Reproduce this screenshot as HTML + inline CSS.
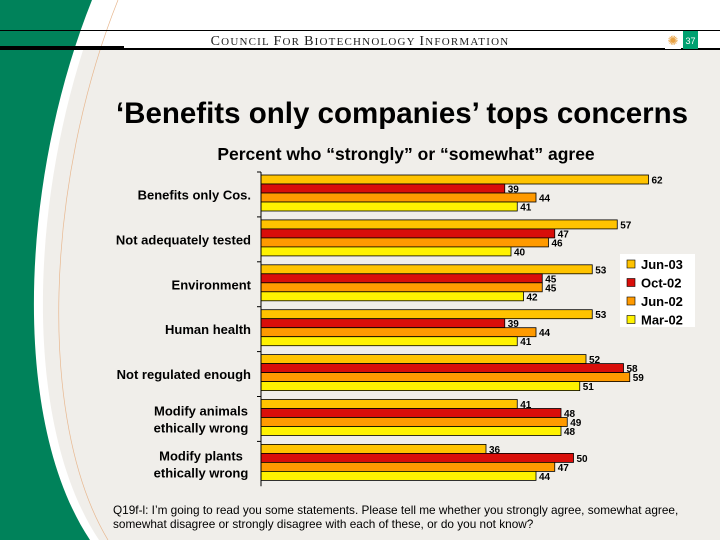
<!DOCTYPE html>
<html><head><meta charset="utf-8"><style>
body{margin:0;width:720px;height:540px;overflow:hidden;background:#fff;font-family:"Liberation Sans",sans-serif}
</style></head><body>
<svg width="720" height="540" xmlns="http://www.w3.org/2000/svg">
<rect x="0" y="49" width="720" height="491" fill="#F0EEEA"/>
<path d="M0,0 L101,0 C29,180 19,420 99,540 L0,540 Z" fill="#fff"/>
<path d="M0,0 L92,0 C20,180 10,420 90,540 L0,540 Z" fill="#00825A"/>
<path d="M118,0 C46,180 36,420 108,540" fill="none" stroke="#E8B890" stroke-width="0.7"/>
<line x1="0" y1="30.5" x2="720" y2="30.5" stroke="#000" stroke-width="1"/>
<line x1="0" y1="49" x2="720" y2="49" stroke="#000" stroke-width="2"/>
<line x1="0" y1="47" x2="124" y2="47" stroke="#000" stroke-width="2"/>
<text x="360" y="45" text-anchor="middle" font-family="Liberation Serif" font-size="11" letter-spacing="1.2" fill="#222"><tspan font-size="14">C</tspan>OUNCIL <tspan font-size="14">F</tspan>OR <tspan font-size="14">B</tspan>IOTECHNOLOGY <tspan font-size="14">I</tspan>NFORMATION</text>
<rect x="665" y="31" width="16" height="18" fill="#fff"/>
<text x="673" y="45" text-anchor="middle" font-size="13" fill="#E8A040">✺</text>
<rect x="683" y="31" width="15" height="18" fill="#00A070"/>
<text x="690.5" y="44" text-anchor="middle" font-size="9" fill="#fff">37</text>
<text x="402" y="123" text-anchor="middle" font-weight="bold" font-size="29.5" fill="#000">‘Benefits only companies’ tops concerns</text>
<text x="406" y="160" text-anchor="middle" font-weight="bold" font-size="17.5" fill="#000">Percent who “strongly” or “somewhat” agree</text>
<g id="chart"></g>
<g>
<rect x="620" y="254" width="75" height="73" fill="#fff"/>
<g id="legend"></g>
</g>
<text x="113" y="514" font-size="11.8" fill="#000">Q19f-l: I’m going to read you some statements.  Please tell me whether you strongly agree, somewhat agree,</text>
<text x="113" y="528" font-size="11.8" fill="#000">somewhat disagree or strongly disagree with each of these, or do you not know?</text>
</svg>
<script>
const categories=[["Benefits only Cos."],["Not adequately tested"],["Environment"],["Human health"],["Not regulated enough"],["Modify animals","ethically wrong"],["Modify plants","ethically wrong"]];
const seriesNames=["Jun-03","Oct-02","Jun-02","Mar-02"];
const jun03=[62,57,53,53,52,41,36];
const oct02=[39,47,45,39,58,48,50];
const jun02=[44,46,45,44,59,49,47];
const mar02=[41,40,42,41,51,48,44];
const colors=["#FFC300","#D90E0A","#FF9A00","#FFF200"];
const series=[jun03,oct02,jun02,mar02];
const NS="http://www.w3.org/2000/svg";
const x0=261,scale=6.25,top0=172,pitch=44.9,bh=9;
const xs=v=>x0+v*scale;
const g=document.getElementById('chart');
function mk(t,a,p){const e=document.createElementNS(NS,t);for(const k in a)e.setAttribute(k,a[k]);(p||g).appendChild(e);return e;}
categories.forEach((c,i)=>{
  const gy=top0+i*pitch;
  series.forEach((s,j)=>{
    const y=gy+3+j*bh;
    const r=mk('rect',{x:x0,y:y,width:xs(s[i])-x0,height:bh,fill:colors[j],stroke:'#000','stroke-width':0.8});
    
    
    const t=mk('text',{x:xs(s[i])+3,y:y+bh-0.5,'font-size':10,'font-weight':'bold'});
    t.textContent=s[i];
    
    
  });
  const mid=gy+pitch/2;
  c.forEach((ln,k)=>{
    const t=mk('text',{x:251,y:mid+5+(k-(c.length-1)/2)*17,'text-anchor':c.length>1?'middle':'end','font-size':13,'font-weight':'bold'});
    if(c.length>1)t.setAttribute('x',201);
    t.textContent=ln;
    
    
  });
  const tk=mk('line',{x1:x0-4,x2:x0,y1:gy,y2:gy,stroke:'#000'});
  
  
});
const ax=mk('line',{x1:x0,x2:x0,y1:top0,y2:top0+categories.length*pitch,stroke:'#000'});


const lg=document.getElementById('legend');
seriesNames.forEach((n,j)=>{
  const y=265+j*18.5;
  const r=mk('rect',{x:627,y:y-5,width:8,height:8,fill:colors[j],stroke:'#000','stroke-width':0.6},lg);
  
  
  const t=mk('text',{x:641,y:y+4,'font-size':13,'font-weight':'bold'},lg);
  t.textContent=n;
  
  
});
</script>
</body></html>
